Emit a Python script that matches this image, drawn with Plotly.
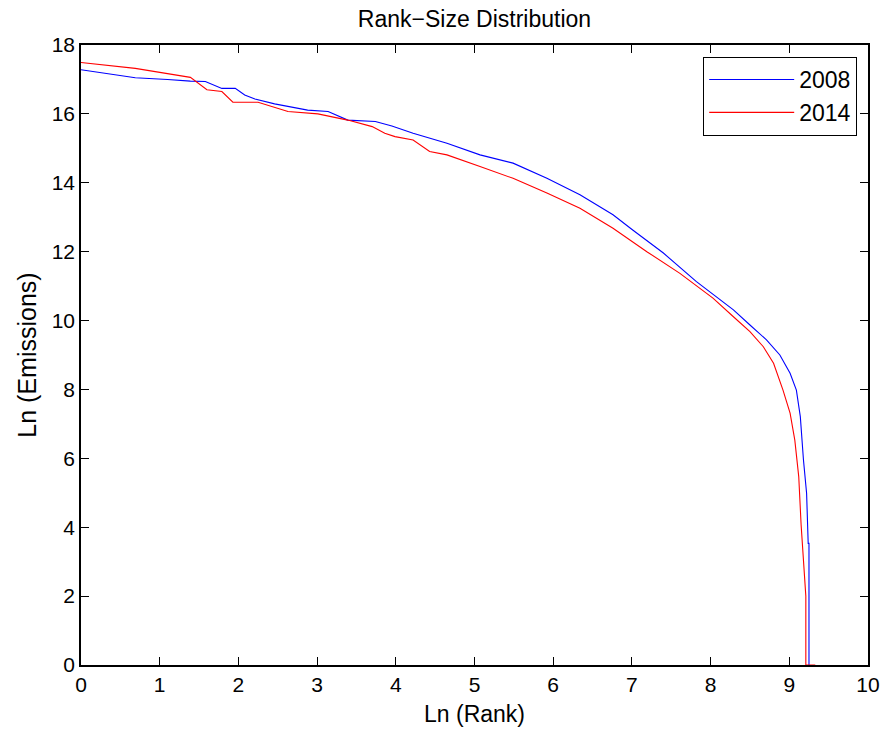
import plotly.graph_objects as go

# Ln(Rank) vs Ln(Emissions)
x_2008 = [0, 0.69, 1.1, 1.39, 1.58, 1.79, 1.96, 2.08, 2.21, 2.46, 2.88, 3.14, 3.39, 3.74, 3.95,
          4.22, 4.65, 5.07, 5.49, 5.92, 6.34, 6.76, 7.01, 7.40, 7.82, 8.08, 8.29, 8.50, 8.71,
          8.88, 9.01, 9.09, 9.14, 9.18, 9.22, 9.24, 9.25, 9.25]
y_2008 = [17.28, 17.05, 17.0, 16.95, 16.94, 16.74, 16.74, 16.55, 16.43, 16.29, 16.11, 16.07, 15.82,
          15.78, 15.65, 15.44, 15.15, 14.81, 14.57, 14.13, 13.65, 13.07, 12.63, 11.96, 11.13, 10.69,
          10.31, 9.87, 9.44, 9.0, 8.47, 7.98, 7.21, 5.95, 4.98, 3.53, 3.53, 0]

x_2014 = [0, 0.69, 1.39, 1.6, 1.79, 1.93, 2.25, 2.63, 3.01, 3.39, 3.7, 3.86, 3.99, 4.22, 4.43,
          4.65, 5.07, 5.49, 5.92, 6.34, 6.76, 7.19, 7.61, 8.03, 8.29, 8.50, 8.67, 8.80, 8.92,
          9.01, 9.07, 9.12, 9.15, 9.19, 9.21, 9.21, 9.33]
y_2014 = [17.49, 17.32, 17.06, 16.7, 16.65, 16.34, 16.34, 16.07, 16.0, 15.82, 15.63, 15.44, 15.34,
          15.24, 14.91, 14.81, 14.47, 14.13, 13.70, 13.26, 12.68, 12.0, 11.37, 10.65, 10.11, 9.68,
          9.24, 8.76, 7.98, 7.31, 6.53, 5.47, 4.07, 2.76, 2.0, 0, 0]

font_family = "Liberation Sans, Arial, sans-serif"

fig = go.Figure()
fig.add_trace(go.Scatter(x=x_2008, y=y_2008, mode="lines", name="2008",
                         line=dict(color="#0000ff", width=1.1)))
fig.add_trace(go.Scatter(x=x_2014, y=y_2014, mode="lines", name="2014",
                         line=dict(color="#ff0000", width=1.1)))

axis_common = dict(showgrid=False, zeroline=False, showline=True, linecolor="black",
                   linewidth=1.5, mirror="allticks", ticks="inside", ticklen=8,
                   tickcolor="black", tickwidth=1, automargin=False,
                   tickfont=dict(size=21, color="black"))

W, H = 884, 729
fig.update_layout(
    width=W, height=H,
    paper_bgcolor="white", plot_bgcolor="white",
    font=dict(family=font_family, color="black"),
    margin=dict(l=81, r=16, t=45, b=64, autoexpand=False),
    title=dict(text="Rank\u2212Size Distribution", xref="paper", x=0.5, xanchor="center",
               yref="container", y=1 - 19 / H, yanchor="middle", font=dict(size=23),
               automargin=False),
    xaxis=dict(range=[0, 10], dtick=1, tick0=0,
               title=dict(text="Ln (Rank)", font=dict(size=23), standoff=11), **axis_common),
    yaxis=dict(range=[0, 18], dtick=2, tick0=0,
               title=dict(text="Ln (Emissions)", font=dict(size=25), standoff=8), **axis_common),
    legend=dict(x=0.986, y=0.981, xanchor="right", yanchor="top",
                bordercolor="black", borderwidth=1.2, bgcolor="white",
                font=dict(size=23), tracegroupgap=0, itemwidth=85),
    showlegend=True,
)

# remove the default page margin so the figure fills the window exactly
fig.write_html("out.html", config={"displayModeBar": False},
               post_script="document.body.style.margin='0';")
